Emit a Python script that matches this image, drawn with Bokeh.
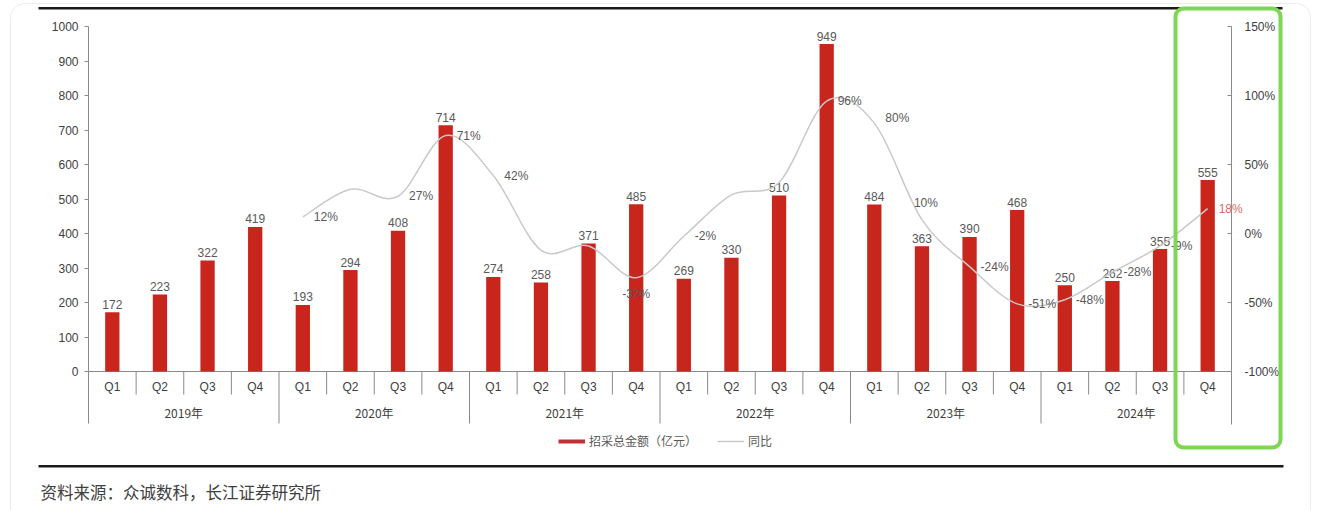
from bokeh.plotting import figure
from bokeh.models import (FactorRange, Range1d, LinearAxis, FixedTicker, PrintfTickFormatter,
                          ColumnDataSource, BoxAnnotation, Label, Legend, LegendItem)
from bokeh.embed import file_html
from bokeh.resources import INLINE
from bokeh.core.properties import value

# ---------------- data ----------------
years = ["2019年", "2020年", "2021年", "2022年", "2023年", "2024年"]
quarters = ["Q1", "Q2", "Q3", "Q4"]
amount = [172, 223, 322, 419, 193, 294, 408, 714, 274, 258, 371, 485,
          269, 330, 510, 949, 484, 363, 390, 468, 250, 262, 355, 555]
yoy = [12, 32, 27, 71, 42, -12, -9, -32, -2, 28, 37, 96, 80, 10, -24, -51,
       -48, -28, -9, 18]
yoy_shown = [True, False, True, True, True, False, False, True, True, False,
             False, True, True, True, True, True, True, True, True, True]
left_ticks = [0, 100, 200, 300, 400, 500, 600, 700, 800, 900, 1000]
right_ticks = [-100, -50, 0, 50, 100, 150]
series_names = ["招采总金额（亿元）", "同比"]
source_note = "资料来源：众诚数科，长江证券研究所"

# ---------------- geometry ----------------
W, H = 1319, 510
NCAT = len(years) * len(quarters)
KX = 1143 / NCAT            # px per category
HALF = (W / KX - NCAT) / 2  # side padding in category units (per side)
FL = HALF * KX              # pixel of category boundary 0
Y0 = 371                    # pixel row of value 0 / -100%
KY = 345 / 1000             # px per unit (left)
KP = 345 / 250              # px per % (right)

def px_x(px):
    return (px - FL) / KX

def px_y(py):
    return (Y0 - py) / KY

factors = [(y, q) for y in years for q in quarters]
x_range = FactorRange(factors=factors, factor_padding=0, group_padding=0,
                      subgroup_padding=0, range_padding=HALF,
                      range_padding_units="absolute")
y_range = Range1d(-(H - Y0) / KY, Y0 / KY)

p = figure(width=W, height=H, x_range=x_range, y_range=y_range,
           output_backend="svg", toolbar_location=None,
           x_axis_location=None, y_axis_location=None,
           min_border_left=0, min_border_right=0,
           min_border_top=0, min_border_bottom=0,
           outline_line_color=None, background_fill_color="white",
           border_fill_color="white")
p.grid.visible = False
p.extra_y_ranges = {"pct": Range1d(-100 - (H - Y0) / KP, -100 + Y0 / KP)}

AX = "#8a8a8a"
TXT = "#404040"
LBL = "#595959"
NUMFONT = "Liberation Sans"
CJK = "Noto Sans CJK SC"

lax = LinearAxis(ticker=FixedTicker(ticks=left_ticks), bounds=(px_y(423), 1000),
                 fixed_location=0,
                 axis_line_color=AX, major_tick_line_color=AX,
                 major_tick_out=4, major_tick_in=0, minor_tick_out=0, minor_tick_in=0,
                 major_label_text_font_size="12px", major_label_text_color=TXT,
                 major_label_text_font=NUMFONT, major_label_standoff=6)
p.add_layout(lax, "left")

rax = LinearAxis(y_range_name="pct", ticker=FixedTicker(ticks=right_ticks),
                 formatter=PrintfTickFormatter(format="%d%%"),
                 bounds=(-100 - (424 - Y0) / KP, 150),
                 fixed_location=NCAT,
                 axis_line_color=AX, major_tick_line_color=AX,
                 major_tick_out=0, major_tick_in=4, minor_tick_out=0, minor_tick_in=0,
                 major_label_text_font_size="12px", major_label_text_color=TXT,
                 major_label_text_font=NUMFONT, major_label_standoff=13)
p.add_layout(rax, "right")

# category axis line
p.segment(x0=[0], y0=[0], x1=[NCAT], y1=[0], line_color=AX, line_width=1)

# bars
bar_src = ColumnDataSource(dict(x=factors, amount=amount, label=[str(a) for a in amount]))
p.vbar(x="x", top="amount", width=0.3, source=bar_src,
       fill_color="#c8251c", line_color=None)
p.text(x="x", y="amount", text="label", source=bar_src, text_align="center",
       text_baseline="alphabetic", y_offset=-8, text_font_size="12px",
       text_color=LBL, text_font=value(NUMFONT))

# smoothed yoy line (bezier through the data points)
start = len(quarters)
xs = [start + i + 0.5 for i in range(len(yoy))]
n = len(yoy)
def pt(i):
    i = max(0, min(n - 1, i))
    return xs[i], yoy[i]
seg = dict(x0=[], y0=[], x1=[], y1=[], cx0=[], cy0=[], cx1=[], cy1=[])
for i in range(n - 1):
    xa, ya = pt(i)
    xb, yb = pt(i + 1)
    xp, yp = pt(i - 1)
    xn, yn = pt(i + 2)
    seg["x0"].append(xa); seg["y0"].append(ya)
    seg["x1"].append(xb); seg["y1"].append(yb)
    seg["cx0"].append(xa + (xb - xp) / 6); seg["cy0"].append(ya + (yb - yp) / 6)
    seg["cx1"].append(xb - (xn - xa) / 6); seg["cy1"].append(yb - (yn - ya) / 6)
p.bezier(x0="x0", y0="y0", x1="x1", y1="y1", cx0="cx0", cy0="cy0", cx1="cx1",
         cy1="cy1", source=ColumnDataSource(seg), y_range_name="pct",
         line_color="#c9c9c9", line_width=1.5)

# yoy labels
below = {7}
above = {13}
lift = {12: -5}
groups = {"right": dict(x=[], y=[], t=[], c=[], oy=[]),
          "below": dict(x=[], y=[], t=[], c=[], oy=[]),
          "above": dict(x=[], y=[], t=[], c=[], oy=[])}
for i, v in enumerate(yoy):
    if not yoy_shown[i]:
        continue
    g = "below" if i in below else ("above" if i in above else "right")
    groups[g]["x"].append(xs[i]); groups[g]["y"].append(v)
    groups[g]["t"].append(f"{v}%")
    groups[g]["c"].append("#e06a66" if i == n - 1 else LBL)
    groups[g]["oy"].append(lift.get(i, 0))
common = dict(y_range_name="pct", text_font_size="12px", text_font=value(NUMFONT))
p.text(x="x", y="y", text="t", text_color="c", y_offset="oy",
       source=ColumnDataSource(groups["right"]), text_align="left",
       text_baseline="middle", x_offset=11, **common)
p.text(x="x", y="y", text="t", text_color="c",
       source=ColumnDataSource(groups["below"]), text_align="center",
       text_baseline="middle", y_offset=16, **common)
p.text(x="x", y="y", text="t", text_color="c",
       source=ColumnDataSource(groups["above"]), text_align="center",
       text_baseline="middle", y_offset=-17, x_offset=4, **common)

# category labels
p.text(x=factors, y=[px_y(386)] * len(factors), text=[f[1] for f in factors],
       text_align="center", text_baseline="middle", text_font_size="12px",
       text_color=TXT, text_font=value(NUMFONT))
p.text(x=[len(quarters) * g + len(quarters) / 2 for g in range(len(years))],
       y=[px_y(412)] * len(years), text=years, text_align="center",
       text_baseline="middle", text_font_size="12px", text_color=TXT,
       text_font=value(CJK))

# category separators
qb = [b for b in range(1, NCAT) if b % len(quarters) != 0]
yb = [b for b in range(1, NCAT) if b % len(quarters) == 0]
p.segment(x0=qb, y0=[0] * len(qb), x1=qb, y1=[px_y(394)] * len(qb),
          line_color=AX, line_width=1)
p.segment(x0=yb, y0=[0] * len(yb), x1=yb, y1=[px_y(423)] * len(yb),
          line_color=AX, line_width=1)

# legend (proxy renderers, nothing drawn in the plot)
nan = float("nan")
r_bar = p.line(x=[nan, nan], y=[nan, nan], line_color="#bf2f36", line_width=4)
r_line = p.line(x=[nan, nan], y=[nan, nan], line_color="#c9c9c9", line_width=1.5)
legend = Legend(items=[LegendItem(label=series_names[0], renderers=[r_bar]),
                       LegendItem(label=series_names[1], renderers=[r_line])],
                orientation="horizontal", location=(558, H - 449),
                glyph_width=27, glyph_height=14, label_height=14, label_width=10,
                label_standoff=4, spacing=20, padding=0, margin=0,
                label_text_font_size="12px", label_text_font=CJK,
                label_text_color=LBL, border_line_color=None,
                background_fill_alpha=0)
p.add_layout(legend)

# decorations: rules, highlight box, card border
p.add_layout(BoxAnnotation(left=px_x(38), right=px_x(1282), top=px_y(6.5), bottom=px_y(9),
                           fill_color="#1a1a1a", fill_alpha=1, line_color=None, level="overlay"))
p.add_layout(BoxAnnotation(left=px_x(38), right=px_x(1283), top=px_y(464.5), bottom=px_y(467),
                           fill_color="#1a1a1a", fill_alpha=1, line_color=None, level="overlay"))
p.add_layout(BoxAnnotation(left=px_x(1175), right=px_x(1280), top=px_y(8), bottom=px_y(447),
                           fill_alpha=0, line_color="#7fd655", line_alpha=1, line_width=4,
                           border_radius=8, level="overlay"))
p.add_layout(BoxAnnotation(left=px_x(10), right=px_x(1310), top=px_y(3), bottom=px_y(540),
                           fill_alpha=0, line_color="#ececec", line_alpha=1, line_width=1,
                           border_radius=14, level="underlay"))

p.add_layout(Label(x=px_x(40), y=px_y(491), text=source_note, text_baseline="middle",
                   text_font_size="16.5px", text_font=CJK, text_color=TXT))

open("out.html", "w").write(file_html(p, INLINE))
